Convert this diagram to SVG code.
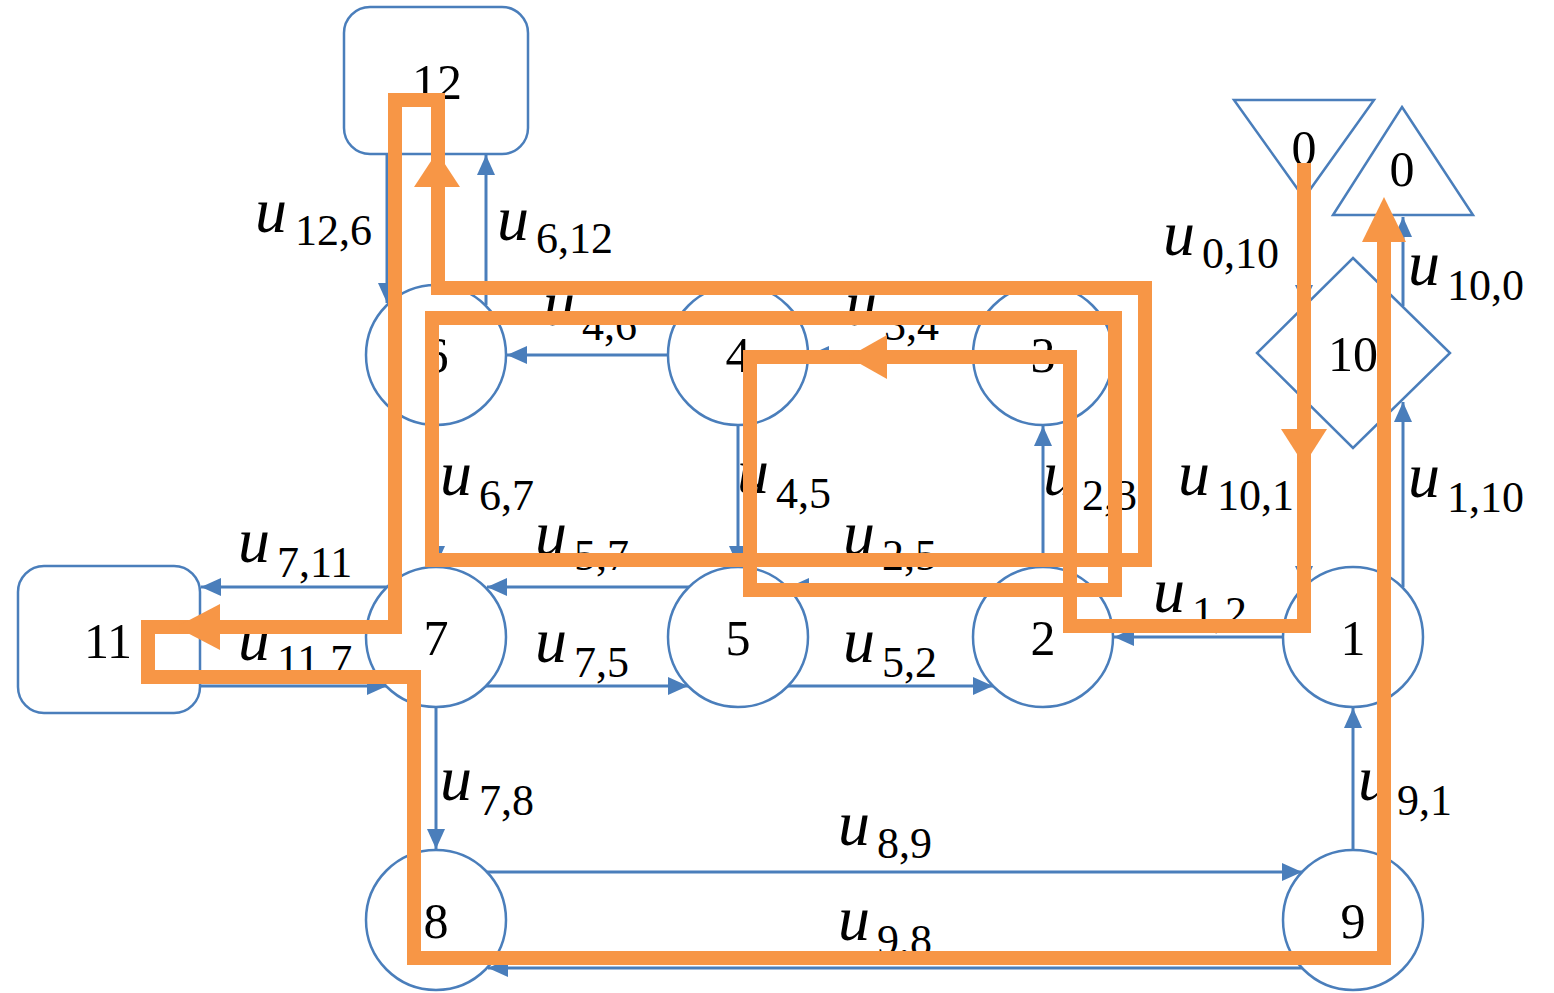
<svg xmlns="http://www.w3.org/2000/svg" width="1554" height="993" viewBox="0 0 1554 993">
<style>
.n{fill:#fff;stroke:#4a7ebb;stroke-width:2.5}
.c{fill:none;stroke:#4a7ebb;stroke-width:3;marker-end:url(#a)}
text,tspan{font-family:'Liberation Serif','DejaVu Serif',Times,serif}
.t{font-size:50px;fill:#000;text-anchor:middle}
.u{font-size:64px;font-style:italic;fill:#000}
.s{font-size:44px;fill:#000}
.o{fill:none;stroke:#f79646;stroke-width:14;stroke-linejoin:miter}
.oa{fill:#f79646}
</style>
<defs>
<marker id="a" viewBox="0 0 20 18" refX="20" refY="9" markerWidth="20" markerHeight="18" orient="auto" markerUnits="userSpaceOnUse">
<path d="M0,0 L20,9 L0,18 z" fill="#4a7ebb"/>
</marker>
</defs>
<g id="connectors">
<path class="c" d="M387,154 L387,303"/>
<path class="c" d="M486,305 L486,155"/>
<path class="c" d="M668,355 L507,355"/>
<path class="c" d="M973,355 L809,355"/>
<path class="c" d="M436,425 L436,566"/>
<path class="c" d="M738,425 L738,566"/>
<path class="c" d="M1043,567 L1043,426"/>
<path class="c" d="M689,587 L487,587"/>
<path class="c" d="M994,587 L789,587"/>
<path class="c" d="M486,686 L688,686"/>
<path class="c" d="M788,686 L993,686"/>
<path class="c" d="M387,587 L201,587"/>
<path class="c" d="M200,686 L387,686"/>
<path class="c" d="M436,707 L436,849"/>
<path class="c" d="M487,872 L1302,872"/>
<path class="c" d="M1302,968 L488,968"/>
<path class="c" d="M1353,850 L1353,708"/>
<path class="c" d="M1283,637 L1114,637"/>
<path class="c" d="M1403,587 L1403,402"/>
<path class="c" d="M1304,400 L1304,586"/>
<path class="c" d="M1304,198 L1304,305"/>
<path class="c" d="M1403,306 L1403,217"/>
</g>
<g id="node12"><rect class="n" x="344" y="7" width="184" height="147" rx="26"/><text class="t" x="437" y="99">12</text></g>
<g id="node11"><rect class="n" x="18" y="566" width="182" height="147" rx="26"/><text class="t" x="108" y="658">11</text></g>
<g id="node6"><circle class="n" cx="436" cy="355" r="70"/><text class="t" x="436" y="372">6</text></g>
<g id="node4"><circle class="n" cx="738" cy="355" r="70"/><text class="t" x="738" y="372">4</text></g>
<g id="node3"><circle class="n" cx="1043" cy="355" r="70"/><text class="t" x="1043" y="372">3</text></g>
<g id="node7"><circle class="n" cx="436" cy="637" r="70"/><text class="t" x="436" y="655">7</text></g>
<g id="node5"><circle class="n" cx="738" cy="637" r="70"/><text class="t" x="738" y="655">5</text></g>
<g id="node2"><circle class="n" cx="1043" cy="637" r="70"/><text class="t" x="1043" y="655">2</text></g>
<g id="node1"><circle class="n" cx="1353" cy="637" r="70"/><text class="t" x="1353" y="655">1</text></g>
<g id="node8"><circle class="n" cx="436" cy="920" r="70"/><text class="t" x="436" y="938">8</text></g>
<g id="node9"><circle class="n" cx="1353" cy="920" r="70"/><text class="t" x="1353" y="938">9</text></g>
<g id="node10"><polygon class="n" points="1353,258 1450,353 1353,448 1257,353"/><text class="t" x="1353" y="371">10</text></g>
<g id="node0in"><polygon class="n" points="1234,100 1374,100 1304,198"/><text class="t" x="1304" y="165">0</text></g>
<g id="node0out"><polygon class="n" points="1402,107 1473,215 1333,215"/><text class="t" x="1402" y="186">0</text></g>
<g id="labels">
<text><tspan class="u" x="255" y="232">u</tspan><tspan class="s" x="295" y="245">12,6</tspan></text>
<text><tspan class="u" x="497" y="240">u</tspan><tspan class="s" x="536" y="253">6,12</tspan></text>
<text><tspan class="u" x="543" y="325">u</tspan><tspan class="s" x="582" y="340">4,6</tspan></text>
<text><tspan class="u" x="845" y="325">u</tspan><tspan class="s" x="884" y="340">3,4</tspan></text>
<text><tspan class="u" x="440" y="495">u</tspan><tspan class="s" x="479" y="510">6,7</tspan></text>
<text><tspan class="u" x="737" y="493">u</tspan><tspan class="s" x="776" y="508">4,5</tspan></text>
<text><tspan class="u" x="1043" y="495">u</tspan><tspan class="s" x="1082" y="510">2,3</tspan></text>
<text><tspan class="u" x="535" y="555">u</tspan><tspan class="s" x="574" y="570">5,7</tspan></text>
<text><tspan class="u" x="843" y="555">u</tspan><tspan class="s" x="882" y="570">2,5</tspan></text>
<text><tspan class="u" x="238" y="562">u</tspan><tspan class="s" x="277" y="577">7,11</tspan></text>
<text><tspan class="u" x="238" y="660">u</tspan><tspan class="s" x="277" y="675">11,7</tspan></text>
<text><tspan class="u" x="535" y="662">u</tspan><tspan class="s" x="574" y="677">7,5</tspan></text>
<text><tspan class="u" x="843" y="662">u</tspan><tspan class="s" x="882" y="677">5,2</tspan></text>
<text><tspan class="u" x="1153" y="612">u</tspan><tspan class="s" x="1192" y="627">1,2</tspan></text>
<text><tspan class="u" x="440" y="800">u</tspan><tspan class="s" x="479" y="815">7,8</tspan></text>
<text><tspan class="u" x="838" y="845">u</tspan><tspan class="s" x="877" y="858">8,9</tspan></text>
<text><tspan class="u" x="838" y="940">u</tspan><tspan class="s" x="877" y="955">9,8</tspan></text>
<text><tspan class="u" x="1358" y="800">u</tspan><tspan class="s" x="1397" y="815">9,1</tspan></text>
<text><tspan class="u" x="1163" y="255">u</tspan><tspan class="s" x="1202" y="268">0,10</tspan></text>
<text><tspan class="u" x="1408" y="285">u</tspan><tspan class="s" x="1447" y="300">10,0</tspan></text>
<text><tspan class="u" x="1178" y="495">u</tspan><tspan class="s" x="1217" y="510">10,1</tspan></text>
<text><tspan class="u" x="1408" y="497">u</tspan><tspan class="s" x="1447" y="512">1,10</tspan></text>
</g>
<g id="route">
<path class="o" d="M1304,163 L1304,626 L1070,626 L1070,357 L750,357 L750,590 L1115,590 L1115,318 L432,318 L432,560 L1145,560 L1145,288 L438,288 L438,100 L395,100 L395,627 L148,627 L148,677 L414,677 L414,958 L1384,958 L1384,238"/>
<polygon class="oa" points="1281,429 1327,429 1304,465"/>
<polygon class="oa" points="848,357 887,335 887,379"/>
<polygon class="oa" points="437,152 414,187 460,187"/>
<polygon class="oa" points="176,627 220,604 220,650"/>
<polygon class="oa" points="1384,197 1362,242 1406,242"/>
</g>
</svg>
